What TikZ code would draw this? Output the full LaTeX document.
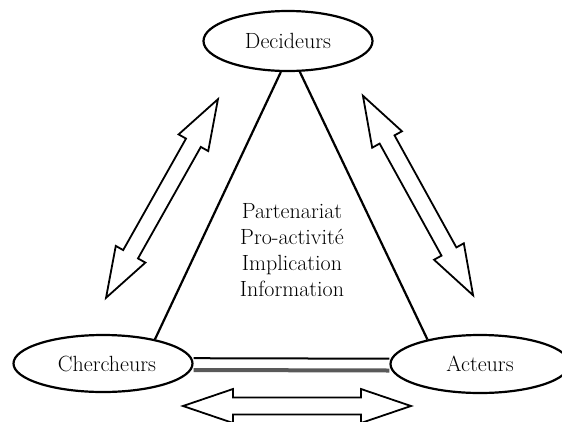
\documentclass[tikz,border=0pt]{standalone}
\usepackage{tikz}
\usetikzlibrary{shapes.geometric,positioning}
\colorlet{shadegray}{black!65}
\tikzstyle{actor}=[draw,ellipse,line width=2.2pt,inner sep=0pt,
  font=\fontsize{22}{26}\selectfont]

\begin{document}
\begin{tikzpicture}[x=1pt,y=-1pt,line join=miter]
    \tikzstyle{side}=[line width=2.2pt]
    \tikzstyle{arrowline}=[draw,line width=1.8pt,fill=white]
    \tikzset{blockarrow/.pic={
        \path[arrowline] (-114,0) -- (-64,-17) -- (-64,-8.5) -- (64,-8.5)
        -- (64,-17) -- (114,0) -- (64,17) -- (64,8.5) -- (-64,8.5)
        -- (-64,17) -- cycle;}}

    \clip (0,0) rectangle (562,421);

    \node[actor, minimum width=169pt, minimum height=60pt] at (288,41)
    (dec) {Decideurs};
    \node[actor, minimum width=179pt, minimum height=57pt] at (103,363.5)
    (cher) {\hspace{8pt}Chercheurs};
    \node[actor, minimum width=179pt, minimum height=58pt] at (480,364)
    (act) {Acteurs};

    \draw[side] (dec.257) -- (cher.25);
    \draw[side] (dec.291) -- (act.155);

    % double trait entre chercheurs et acteurs
    \draw[line width=2pt] ([yshift=5.3pt]cher.east) -- ([yshift=5.3pt]act.west);
    \draw[line width=4pt,shadegray] ([yshift=-6.5pt]cher.east) --
    ([yshift=-6.5pt]act.west);

    \node[align=center,font=\fontsize{22}{26}\selectfont] at (292,250)
    (axes) {Partenariat\\Pro-activit\'e\\Implication\\Information};

    \pic[rotate=60.6] at (162,198.5) {blockarrow};
    \pic[rotate=-61.1] at (418,195.5) {blockarrow};
    \pic at (297,406) {blockarrow};
\end{tikzpicture}
\end{document}
